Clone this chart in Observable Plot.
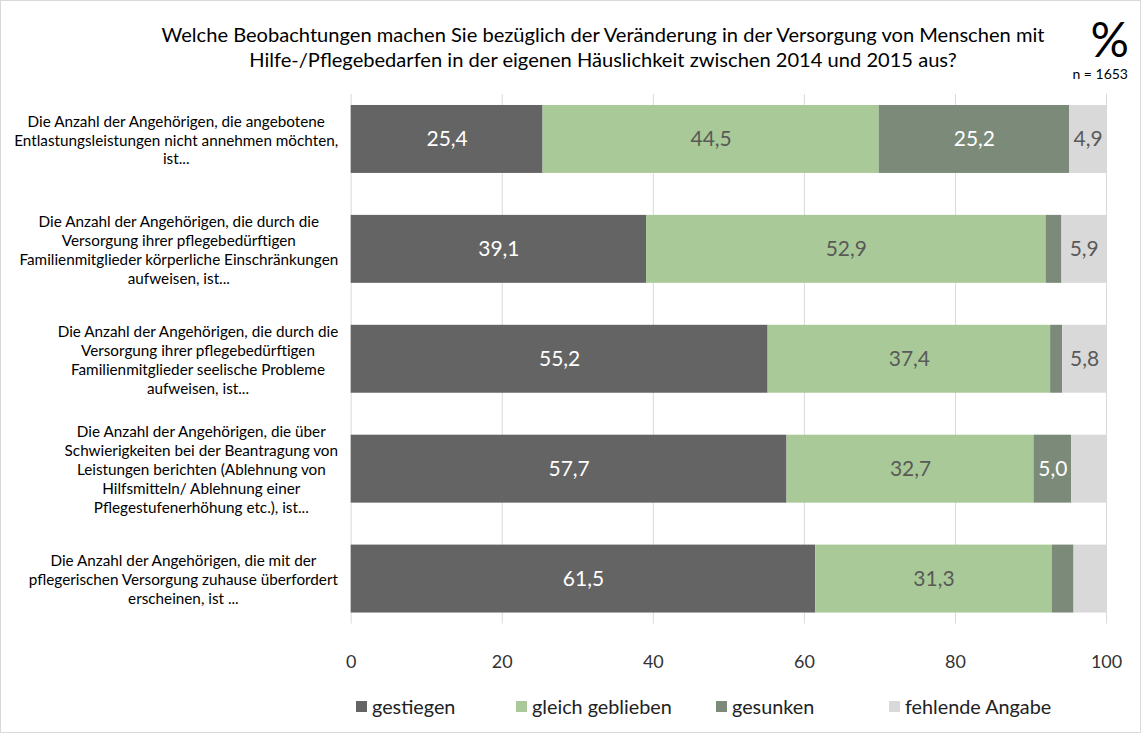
<!DOCTYPE html>
<html><head><meta charset="utf-8">
<script src="https://cdn.jsdelivr.net/npm/d3@7"></script>
<script src="https://cdn.jsdelivr.net/npm/@observablehq/plot@0.6"></script>
<style>
html,body{margin:0;padding:0;background:#fff;}
#wrap{position:relative;width:1139px;height:731px;border:1px solid #d9d9d9;font-family:Lato,"Open Sans",sans-serif;color:#000;overflow:hidden;}
#title{position:absolute;left:100px;width:1004px;top:21px;text-align:center;font-size:20.1px;line-height:25px;}
#pct{position:absolute;right:11px;top:14px;font-size:48px;line-height:48px;}
#n{position:absolute;right:12px;top:65px;font-size:14px;line-height:16px;}
#chart{position:absolute;left:-1px;top:88px;}
#legend{position:absolute;left:355px;top:693px;display:flex;font-size:19.8px;line-height:24px;color:#222;}
#legend .it{display:flex;align-items:center;gap:5px;}
#legend .sw{width:11px;height:11px;display:inline-block;}
</style></head>
<body><div id="wrap">
<div id="title">Welche Beobachtungen machen Sie bezüglich der Veränderung in der Versorgung von Menschen mit<br>Hilfe-/Pflegebedarfen in der eigenen Häuslichkeit zwischen 2014 und 2015 aus?</div>
<div id="pct">%</div><div id="n">n = 1653</div>
<div id="chart"></div>
<div id="legend"></div>
</div>
<script>
const categories = [
  "Die Anzahl der Angehörigen, die angebotene\nEntlastungsleistungen nicht annehmen möchten,\nist...",
  "Die Anzahl der Angehörigen, die durch die\nVersorgung ihrer pflegebedürftigen\nFamilienmitglieder körperliche Einschränkungen\naufweisen, ist...",
  "Die Anzahl der Angehörigen, die durch die\nVersorgung ihrer pflegebedürftigen\nFamilienmitglieder seelische Probleme\naufweisen, ist...",
  "Die Anzahl der Angehörigen, die über\nSchwierigkeiten bei der Beantragung von\nLeistungen berichten (Ablehnung von\nHilfsmitteln/ Ablehnung einer\nPflegestufenerhöhung etc.), ist...",
  "Die Anzahl der Angehörigen, die mit der\npflegerischen Versorgung zuhause überfordert\nerscheinen, ist ..."
];
const seriesNames = ["gestiegen", "gleich geblieben", "gesunken", "fehlende Angabe"];
const gestiegen = [25.4, 39.1, 55.2, 57.7, 61.5];
const gleichGeblieben = [44.5, 52.9, 37.4, 32.7, 31.3];
const gesunken = [25.2, 2.1, 1.6, 5.0, 2.9];
const fehlendeAngabe = [4.9, 5.9, 5.8, 4.6, 4.3];
const xTicks = [0, 20, 40, 60, 80, 100];
const colors = ["#646464", "#a9ca98", "#7b8a79", "#d9d9d9"];
const lightText = ["gestiegen", "gesunken"];
const legendSlots = [160, 200, 173, 0];

const seriesValues = [gestiegen, gleichGeblieben, gesunken, fehlendeAngabe];
const data = [];
categories.forEach((c, i) => seriesNames.forEach((s, j) => data.push({cat: c, series: s, value: seriesValues[j][i]})));
const fmt = v => v.toFixed(1).replace(".", ",");
const showLabel = d => d.value >= 4.8;

const chart = Plot.plot({
  width: 1141, height: 597,
  marginLeft: 351, marginRight: 34, marginTop: 5, marginBottom: 62,
  style: {fontFamily: "Lato, 'Open Sans', sans-serif", background: "transparent"},
  x: {domain: [0, 100]},
  y: {domain: categories, paddingInner: 0.38, paddingOuter: 0.08, label: null},
  color: {domain: seriesNames, range: colors},
  marks: [
    Plot.gridX(xTicks, {stroke: "#d9d9d9", strokeOpacity: 1}),
    Plot.barX(data, Plot.stackX({x: "value", y: "cat", fill: "series", order: seriesNames})),
    Plot.text(data, Plot.stackX({x: "value", y: "cat", z: "series", order: seriesNames,
      text: d => showLabel(d) && lightText.includes(d.series) ? fmt(d.value) : "",
      fill: "white", fontSize: 21})),
    Plot.text(data, Plot.stackX({x: "value", y: "cat", z: "series", order: seriesNames,
      text: d => showLabel(d) && !lightText.includes(d.series) ? fmt(d.value) : "",
      fill: "#595959", fontSize: 21})),
    Plot.axisX({ticks: xTicks, tickSize: 0, tickPadding: 31, fontSize: 18, fill: "#333", label: null}),
    Plot.axisY({tickSize: 0, tickPadding: 13, fontSize: 15.3, lineHeight: 1.24, fill: "#000", label: null})
  ]
});
document.getElementById("chart").appendChild(chart);

// center each multi-line category label like the original
chart.querySelectorAll("text").forEach(t => {
  const tspans = t.querySelectorAll("tspan");
  if (tspans.length < 2) return;
  const w = t.getBBox().width;
  t.setAttribute("text-anchor", "middle");
  t.style.textAnchor = "middle";
  tspans.forEach(ts => ts.setAttribute("x", -w / 2));
});

const legend = document.getElementById("legend");
seriesNames.forEach((s, i) => {
  const it = document.createElement("div"); it.className = "it";
  if (legendSlots[i]) it.style.width = legendSlots[i] + "px";
  const sw = document.createElement("span"); sw.className = "sw"; sw.style.background = colors[i];
  const tx = document.createElement("span"); tx.textContent = s;
  it.appendChild(sw); it.appendChild(tx); legend.appendChild(it);
});
</script>
</body></html>
